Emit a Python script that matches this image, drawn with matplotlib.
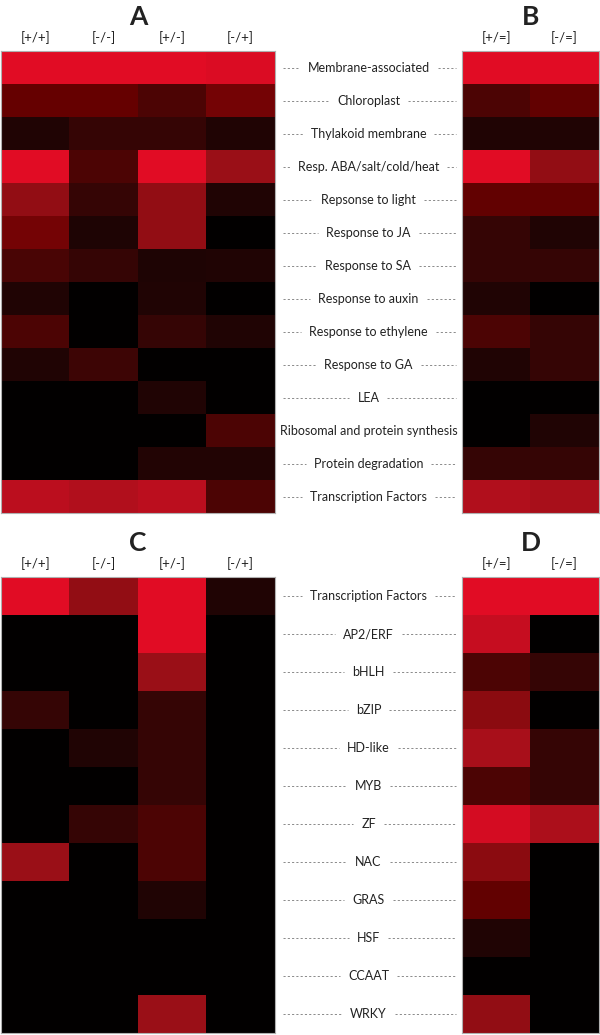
import numpy as np
import matplotlib
matplotlib.use("Agg")
import matplotlib.pyplot as plt
from matplotlib.colors import LinearSegmentedColormap

plt.rcParams['font.family'] = ['Lato', 'DejaVu Sans']

# ---------------- data ----------------
cols_AC = ["[+/+]", "[-/-]", "[+/-]", "[-/+]"]
cols_BD = ["[+/=]", "[-/=]"]

rows_top = ["Membrane-associated", "Chloroplast", "Thylakoid membrane",
            "Resp. ABA/salt/cold/heat", "Repsonse to light", "Response to JA",
            "Response to SA", "Response to auxin", "Response to ethylene",
            "Response to GA", "LEA", "Ribosomal and protein synthesis",
            "Protein degradation", "Transcription Factors"]

vals_A = [[1.00, 1.00, 1.00, 0.98],
          [0.47, 0.47, 0.32, 0.55],
          [0.14, 0.22, 0.22, 0.14],
          [1.00, 0.32, 1.00, 0.72],
          [0.68, 0.22, 0.68, 0.14],
          [0.55, 0.13, 0.68, 0.00],
          [0.30, 0.22, 0.13, 0.14],
          [0.14, 0.00, 0.14, 0.00],
          [0.32, 0.00, 0.22, 0.14],
          [0.14, 0.25, 0.00, 0.00],
          [0.00, 0.00, 0.14, 0.00],
          [0.00, 0.00, 0.00, 0.32],
          [0.00, 0.00, 0.15, 0.15],
          [0.86, 0.82, 0.86, 0.32]]

vals_B = [[1.00, 1.00],
          [0.32, 0.45],
          [0.14, 0.14],
          [1.00, 0.68],
          [0.45, 0.45],
          [0.22, 0.14],
          [0.22, 0.22],
          [0.14, 0.00],
          [0.32, 0.22],
          [0.14, 0.22],
          [0.00, 0.00],
          [0.00, 0.14],
          [0.22, 0.22],
          [0.82, 0.78]]

rows_bot = ["Transcription Factors", "AP2/ERF", "bHLH", "bZIP", "HD-like",
            "MYB", "ZF", "NAC", "GRAS", "HSF", "CCAAT", "WRKY"]

vals_C = [[1.00, 0.68, 1.00, 0.14],
          [0.00, 0.00, 1.00, 0.00],
          [0.00, 0.00, 0.72, 0.00],
          [0.22, 0.00, 0.22, 0.00],
          [0.00, 0.14, 0.22, 0.00],
          [0.00, 0.00, 0.22, 0.00],
          [0.00, 0.22, 0.32, 0.00],
          [0.72, 0.00, 0.32, 0.00],
          [0.00, 0.00, 0.14, 0.00],
          [0.00, 0.00, 0.00, 0.00],
          [0.00, 0.00, 0.00, 0.00],
          [0.00, 0.00, 0.72, 0.00]]

vals_D = [[1.00, 1.00],
          [0.90, 0.00],
          [0.32, 0.22],
          [0.65, 0.00],
          [0.78, 0.22],
          [0.32, 0.22],
          [0.95, 0.80],
          [0.65, 0.00],
          [0.45, 0.00],
          [0.14, 0.00],
          [0.00, 0.00],
          [0.68, 0.00]]

cmap = LinearSegmentedColormap.from_list(
    "blackred",
    [(0.0, "#020000"), (0.15, "#230505"), (0.3, "#4a0505"), (0.5, "#6a0000"),
     (0.7, "#960f16"), (0.85, "#b80f1e"), (1.0, "#e10c24")])

W, H = 600, 1035
fig = plt.figure(figsize=(W / 100, H / 100), dpi=100)
fig.patch.set_facecolor("white")


def fx(px):
    return px / W


def fy_rect(top, bottom):
    return 1 - bottom / H, (bottom - top) / H


def heat(ax, vals, cols, title):
    arr = np.array(vals)
    ax.imshow(arr, cmap=cmap, vmin=0, vmax=1, aspect="auto",
              interpolation="nearest")
    ax.set_xticks(range(len(cols)))
    ax.set_xticklabels(cols, fontsize=9.5, color="#222222")
    ax.xaxis.tick_top()
    ax.tick_params(axis="x", length=0, pad=5)
    ax.set_yticks([])
    for s in ax.spines.values():
        s.set_color("#b0b0b0")
        s.set_linewidth(0.8)
    ax.set_title(title, fontsize=19, fontweight="bold", pad=19, color="#222222")


def labels(ax, rows, left_px, right_px):
    ax.set_xlim(left_px, right_px)
    ax.set_ylim(len(rows) - 0.5, -0.5)
    ax.axis("off")
    mid = (left_px + right_px) / 2
    texts = []
    for i, r in enumerate(rows):
        t = ax.text(mid, i, r, ha="center", va="center", fontsize=9,
                    color="#222222")
        texts.append(t)
    return texts


# panel positions (pixels)
topA, botA = 51, 513
topC, botC = 577, 1033
lA, rA = 1, 275
lB, rB = 462, 600

b, h = fy_rect(topA, botA)
axA = fig.add_axes([fx(lA), b, fx(rA - lA), h])
axB = fig.add_axes([fx(lB), b, fx(rB - lB) - 0.002, h])
axL1 = fig.add_axes([fx(rA), b, fx(lB - rA), h])
b2, h2 = fy_rect(topC, botC)
axC = fig.add_axes([fx(lA), b2, fx(rA - lA), h2])
axD = fig.add_axes([fx(lB), b2, fx(rB - lB) - 0.002, h2])
axL2 = fig.add_axes([fx(rA), b2, fx(lB - rA), h2])

heat(axA, vals_A, cols_AC, "A")
heat(axB, vals_B, cols_BD, "B")
heat(axC, vals_C, cols_AC, "C")
heat(axD, vals_D, cols_BD, "D")

t1 = labels(axL1, rows_top, rA, lB)
t2 = labels(axL2, rows_bot, rA, lB)

fig.canvas.draw()
renderer = fig.canvas.get_renderer()
for ax, texts in ((axL1, t1), (axL2, t2)):
    inv = ax.transData.inverted()
    for i, t in enumerate(texts):
        bb = t.get_window_extent(renderer)
        x0 = inv.transform((bb.x0, 0))[0]
        x1 = inv.transform((bb.x1, 0))[0]
        if x0 - 8 > rA + 8:
            ax.plot([rA + 8, x0 - 8], [i, i], color="#8a8a8a", lw=0.7,
                    linestyle=(0, (2.2, 2.2)))
        if x1 + 8 < lB - 6:
            ax.plot([x1 + 8, lB - 6], [i, i], color="#8a8a8a", lw=0.7,
                    linestyle=(0, (2.2, 2.2)))

fig.savefig("out.png", dpi=100, facecolor="white")
